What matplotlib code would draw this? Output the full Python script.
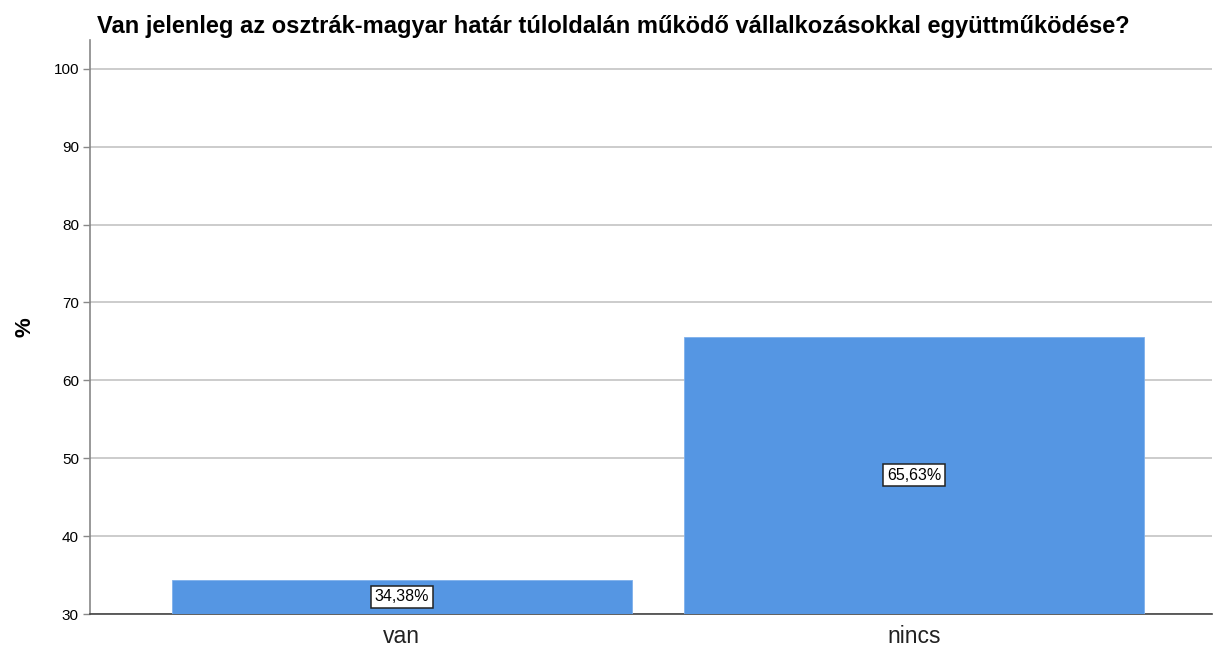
import matplotlib
matplotlib.use("Agg")
import matplotlib.pyplot as plt

categories = ["van", "nincs"]
values = [34.38, 65.63]
labels = ["34,38%", "65,63%"]
yticks = [30, 40, 50, 60, 70, 80, 90, 100]
title = "Van jelenleg az osztrák-magyar határ túloldalán működő vállalkozásokkal együttműködése?"

plt.rcParams['font.family'] = ['Liberation Sans', 'DejaVu Sans']

fig = plt.figure(figsize=(12.15, 6.47), dpi=100)
W, H = 1215, 647
ax = fig.add_axes([90 / W, 1 - 614 / H, (1212 - 90) / W, (614 - 40) / H])

base = 30
x = list(range(len(categories)))
ax.bar(x, [v - base for v in values], bottom=base, width=0.898,
       color="#5596E3", edgecolor="#7FB0EC", linewidth=0.6, zorder=3)

for xi, v, lab in zip(x, values, labels):
    ax.text(xi, (base + v) / 2, lab, ha="center", va="center", fontsize=11.5,
            bbox=dict(boxstyle="square,pad=0.22", facecolor="white",
                      edgecolor="#222222", linewidth=1.1), zorder=5)

ax.set_xlim(-0.609, 1.582)
ax.set_ylim(30, 103.7)
ax.set_yticks(yticks)
ax.set_yticklabels([str(t) for t in yticks], fontsize=11)
ax.set_xticks(x)
ax.set_xticklabels(categories, fontsize=16.5, color="#222222")
ax.tick_params(axis="x", length=0, pad=8)
ax.tick_params(axis="y", length=5, width=1, color="#888888", pad=3)
ax.grid(axis="y", color="#C8C8C8", linewidth=1.3, zorder=0)
ax.set_axisbelow(True)

for s in ["top", "right"]:
    ax.spines[s].set_visible(False)
ax.spines["left"].set_color("#888888")
ax.spines["left"].set_linewidth(1.2)
ax.spines["bottom"].set_color("#444444")
ax.spines["bottom"].set_linewidth(1.2)

ax.set_ylabel("%", fontsize=16, fontweight="bold", labelpad=13)
fig.text(97 / W, 1 - 26 / H, title, fontsize=17, fontweight="bold",
         ha="left", va="center")

fig.savefig("out.png", dpi=100)
